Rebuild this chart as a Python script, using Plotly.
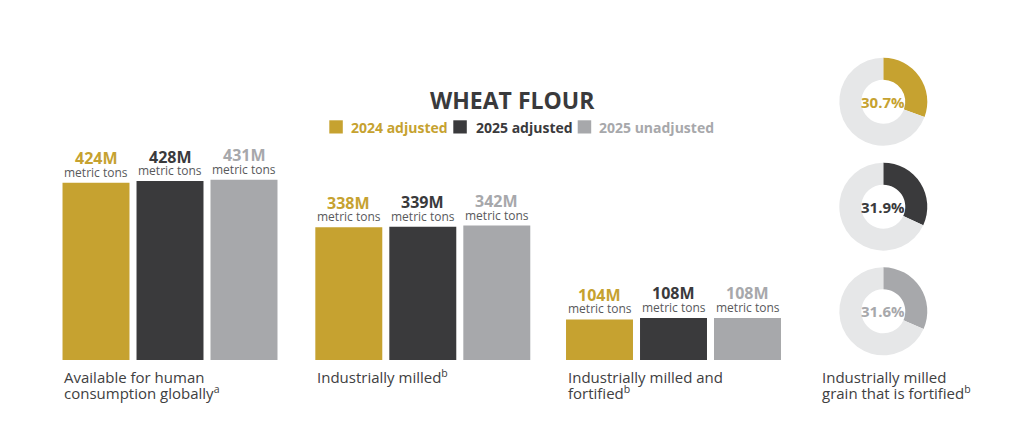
import plotly.graph_objects as go

W, H = 1024, 444
PAGE_OFFSET = 8  # browser body margin around the plot div

# data
series = ["2024 adjusted", "2025 adjusted", "2025 unadjusted"]
series_colors = ["#c6a230", "#3a3a3c", "#a7a8ab"]
donut_rest_color = "#e6e7e8"

category_lines = [
    ["Available for human", "consumption globally<sup>a</sup>"],
    ["Industrially milled<sup>b</sup>"],
    ["Industrially milled and", "fortified<sup>b</sup>"],
]
values_global = [424, 428, 431]
values_milled = [338, 339, 342]
values_fortified = [104, 108, 108]
unit_label = "metric tons"

fortified_pct = [30.7, 31.9, 31.6]
donut_lines = ["Industrially milled", "grain that is fortified<sup>b</sup>"]

title_text = "WHEAT FLOUR"

FONT = "Open Sans"
TEXT_COLOR = "#404041"
UNIT_COLOR = "#58595b"


def px_x(x):
    return (x - PAGE_OFFSET) / W


def px_y(y):
    return 1 - (y - PAGE_OFFSET) / H


fig = go.Figure()
annotations = []
shapes = []

# bar panels: (values, x-domain in px, px per million tons)
panels = [
    (values_global, (59, 281), 0.418),
    (values_milled, (311.8, 533.8), 0.393),
    (values_fortified, (562.5, 784.5), 0.39),
]
baseline_px = 360

layout_axes = {}
for i, (vals, (x0, x1), scale) in enumerate(panels):
    n = "" if i == 0 else str(i + 1)
    fig.add_trace(go.Bar(
        x=series, y=vals, marker=dict(color=series_colors, line=dict(width=0)),
        xaxis="x" + n, yaxis="y" + n, showlegend=False, hoverinfo="skip"))
    layout_axes["xaxis" + n] = dict(
        domain=[px_x(x0), px_x(x1)], range=[-0.5, 2.5], visible=False,
        anchor="y" + n, fixedrange=True)
    layout_axes["yaxis" + n] = dict(
        domain=[px_y(baseline_px), 1],
        range=[0, (baseline_px - PAGE_OFFSET) / scale],
        visible=False, anchor="x" + n, fixedrange=True)

    for s, v, c in zip(series, vals, series_colors):
        annotations.append(dict(
            xref="x" + n, yref="y" + n, x=s, y=v, yanchor="middle",
            yshift=24.5, text=f"<b>{v}M</b>", showarrow=False,
            font=dict(family=FONT, size=16, color=c)))
        annotations.append(dict(
            xref="x" + n, yref="y" + n, x=s, y=v, yanchor="middle",
            yshift=10.5, text=unit_label, showarrow=False,
            font=dict(family=FONT, size=12, color=UNIT_COLOR)))

    for j, line in enumerate(category_lines[i]):
        annotations.append(dict(
            xref="paper", yref="paper", x=px_x(x0 + 3), y=px_y(376.5 + 16 * j),
            xanchor="left", yanchor="middle", text=line, showarrow=False,
            font=dict(family=FONT, size=15, color=TEXT_COLOR)))

# donuts
donut_cx, donut_r = 883.3, 44
donut_cy = [101.7, 206.7, 311.3]
for pct, c, cy in zip(fortified_pct, series_colors, donut_cy):
    fig.add_trace(go.Pie(
        values=[pct, 100 - pct], marker=dict(colors=[c, donut_rest_color]),
        hole=0.5, sort=False, direction="clockwise", rotation=0,
        textinfo="none", hoverinfo="skip", showlegend=False,
        domain=dict(x=[px_x(donut_cx - donut_r), px_x(donut_cx + donut_r)],
                    y=[px_y(cy + donut_r), px_y(cy - donut_r)])))
    annotations.append(dict(
        xref="paper", yref="paper", x=px_x(donut_cx), y=px_y(cy),
        xanchor="center", yanchor="middle", text=f"<b>{pct}%</b>",
        showarrow=False, font=dict(family=FONT, size=15, color=c)))

for j, line in enumerate(donut_lines):
    annotations.append(dict(
        xref="paper", yref="paper", x=px_x(820), y=px_y(376.5 + 16 * j),
        xanchor="left", yanchor="middle", text=line, showarrow=False,
        font=dict(family=FONT, size=15, color=TEXT_COLOR)))

# title
annotations.append(dict(
    xref="paper", yref="paper", x=px_x(512), y=px_y(100),
    xanchor="center", yanchor="middle", text=f"<b>{title_text}</b>",
    showarrow=False, font=dict(family=FONT, size=23, color="#3a3a3c")))

# legend (squares + coloured labels)
legend_sq_x = [329.3, 453.3, 577.7]
legend_text_x = [349.3, 474, 597.3]
for s, c, sx, tx in zip(series, series_colors, legend_sq_x, legend_text_x):
    shapes.append(dict(
        type="rect", xref="paper", yref="paper", x0=px_x(sx), x1=px_x(sx + 13.5),
        y0=px_y(133.5), y1=px_y(120.3), fillcolor=c, line=dict(width=0)))
    annotations.append(dict(
        xref="paper", yref="paper", x=px_x(tx), y=px_y(127.5),
        xanchor="left", yanchor="middle", text=f"<b>{s}</b>",
        showarrow=False, font=dict(family=FONT, size=14, color=c)))

fig.update_layout(
    width=W, height=H, margin=dict(l=0, r=0, t=0, b=0),
    paper_bgcolor="white", plot_bgcolor="white",
    bargap=0.095, annotations=annotations, shapes=shapes,
    font=dict(family=FONT), **layout_axes)

fig.write_html("out.html")
